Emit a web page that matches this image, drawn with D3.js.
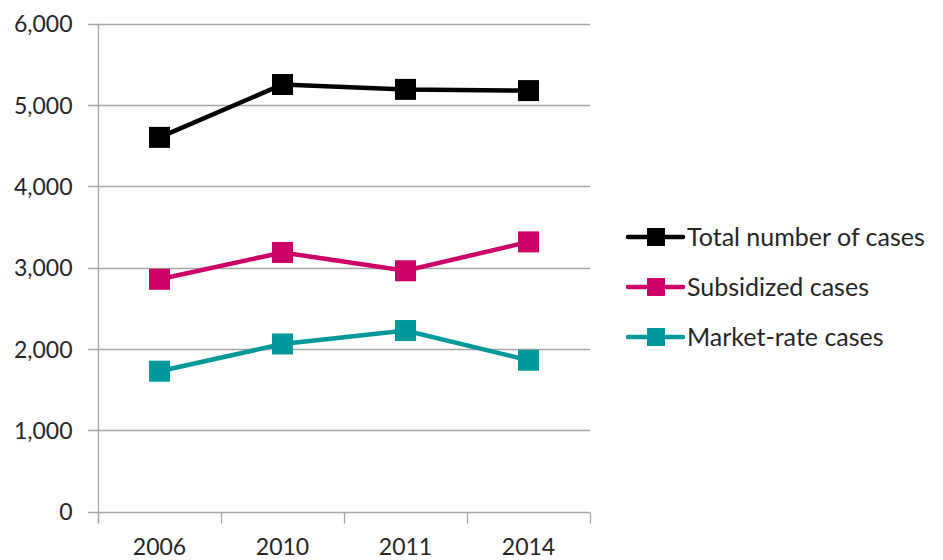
<!DOCTYPE html>
<html lang="en-US">
<head>
<meta charset="UTF-8">
<title>Cases by year</title>
<script src="https://d3js.org/d3.v7.min.js"></script>
<style>
  body { margin: 0; background: #fff; }
  text { font-family: Lato, "Liberation Sans", sans-serif; fill: #262626; }
  .grid line { stroke: #a6a6a6; stroke-width: 1.3px; }
  .axis path, .axis line { stroke: #a6a6a6; stroke-width: 1.3px; }
  .line { fill: none; stroke-width: 4.5px; }
</style>
</head>
<body>
<script>

var years = ["2006", "2010", "2011", "2014"];
var yTicks = [0, 1000, 2000, 3000, 4000, 5000, 6000];

var seriesNames = ["Total number of cases", "Subsidized cases", "Market-rate cases"];
var seriesColors = ["#000000", "#cc0066", "#009999"];
var totalCases = [4600, 5250, 5190, 5175];
var subsidizedCases = [2855, 3185, 2960, 3315];
var marketRateCases = [1725, 2060, 2225, 1860];

var series = [totalCases, subsidizedCases, marketRateCases].map(function(vals, i) {
  return { name: seriesNames[i], color: seriesColors[i],
           values: vals.map(function(v, j) { return { year: years[j], value: v }; }) };
});

var W = 943, H = 560;
var margin = {left: 98, top: 23.5, plotRight: 590, bottom: 511.5};

var x = d3.scaleBand()
    .domain(years)
    .range([margin.left, margin.plotRight]);

var y = d3.scaleLinear()
    .domain([0, 6000])
    .range([margin.bottom, margin.top]);

var svg = d3.select("body").append("svg")
    .attr("width", W)
    .attr("height", H);

// gridlines (extend a bit left of the axis, like tick marks)
svg.append("g")
    .attr("class", "grid")
    .selectAll("line")
    .data(yTicks)
    .enter().append("line")
    .attr("x1", margin.left - 10)
    .attr("x2", margin.plotRight)
    .attr("y1", function(d) { return Math.round(y(d)) + 0.5; })
    .attr("y2", function(d) { return Math.round(y(d)) + 0.5; });

// y axis
var yAxis = svg.append("g")
    .attr("class", "axis axis--y")
    .attr("transform", "translate(" + (margin.left + 0.5) + ",0)")
    .call(d3.axisLeft(y).tickValues(yTicks).tickSize(0).tickPadding(26)
          .tickFormat(d3.format(",")));
yAxis.select(".domain").attr("d", "M0," + margin.top + "V" + (margin.bottom + 11));
yAxis.selectAll("text").style("font-size", "23px").attr("dy", "0.36em");

// x axis with ticks between categories
var xAxis = svg.append("g")
    .attr("class", "axis axis--x")
    .attr("transform", "translate(0," + (Math.round(margin.bottom) + 0.5) + ")")
    .call(d3.axisBottom(x).tickSize(0).tickPadding(26));
xAxis.select(".domain").remove();
xAxis.selectAll("text").style("font-size", "23px");

var bounds = years.map(function(d) { return x(d); }).concat([margin.plotRight]);
xAxis.selectAll(".sep")
    .data(bounds)
    .enter().append("line")
    .attr("class", "sep")
    .attr("x1", function(d) { return Math.round(d) + 0.5; })
    .attr("x2", function(d) { return Math.round(d) + 0.5; })
    .attr("y1", 0)
    .attr("y2", 11);

var line = d3.line()
    .x(function(d) { return x(d.year) + x.bandwidth() / 2; })
    .y(function(d) { return y(d.value); });

var sz = 21;
series.forEach(function(s) {
  svg.append("path")
      .datum(s.values)
      .attr("class", "line")
      .attr("stroke", s.color)
      .attr("d", line);

  svg.selectAll(null)
      .data(s.values)
      .enter().append("rect")
      .attr("x", function(d) { return x(d.year) + x.bandwidth() / 2 - sz / 2; })
      .attr("y", function(d) { return y(d.value) - sz / 2; })
      .attr("width", sz)
      .attr("height", sz)
      .attr("fill", s.color);
});

// legend
var legend = svg.append("g")
    .attr("transform", "translate(628,237)");

var row = legend.selectAll("g")
    .data(series)
    .enter().append("g")
    .attr("transform", function(d, i) { return "translate(0," + (i * 50) + ")"; });

row.append("line")
    .attr("x1", 0).attr("x2", 55)
    .attr("stroke", function(d) { return d.color; })
    .attr("stroke-width", 4.5)
    .attr("stroke-linecap", "round");

row.append("rect")
    .attr("x", 19).attr("y", -9)
    .attr("width", 18).attr("height", 18)
    .attr("fill", function(d) { return d.color; });

row.append("text")
    .attr("x", 59)
    .attr("dy", "0.36em")
    .style("font-size", "25px")
    .text(function(d) { return d.name; });

</script>
</body>
</html>
